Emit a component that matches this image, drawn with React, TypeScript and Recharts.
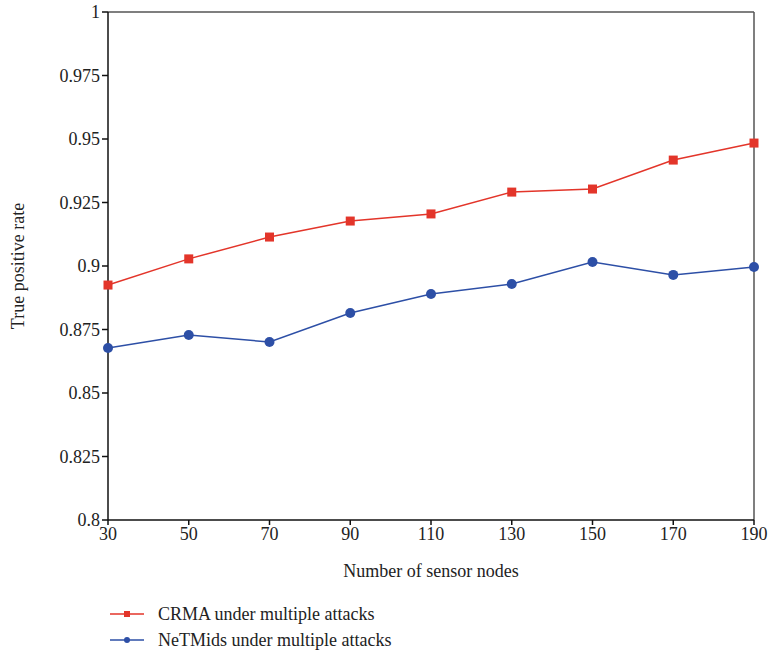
import {
  LineChart,
  Line,
  XAxis,
  YAxis,
  Legend,
  ReferenceLine,
} from "recharts";

const nodes = [30, 50, 70, 90, 110, 130, 150, 170, 190];
const crma = [0.8925, 0.9028, 0.9114, 0.9177, 0.9205, 0.9291, 0.9303, 0.9417, 0.9484];
const netmids = [0.8677, 0.8728, 0.8701, 0.8815, 0.889, 0.8929, 0.9016, 0.8965, 0.8996];
const yTicks = [0.8, 0.825, 0.85, 0.875, 0.9, 0.925, 0.95, 0.975, 1];

const data = nodes.map((n, i) => ({ n, crma: crma[i], netmids: netmids[i] }));

const font = "'Liberation Serif', 'Times New Roman', serif";
const RED = "#e3352a";
const BLUE = "#2d4fa6";
const tickStyle = { fill: "#222", fontFamily: font, fontSize: 18 };

const Square = (props: any) => {
  const { cx, cy } = props;
  return <rect x={cx - 4.5} y={cy - 4.5} width={9} height={9} fill={RED} />;
};

const renderLegend = () => (
  <div style={{ fontFamily: font, fontSize: 18, color: "#222", paddingBottom: 6 }}>
    {[
      { name: "CRMA under multiple attacks", color: RED, square: true },
      { name: "NeTMids under multiple attacks", color: BLUE, square: false },
    ].map((it) => (
      <div key={it.name} style={{ display: "flex", alignItems: "center", height: 26 }}>
        <svg width={36} height={10} style={{ marginRight: 12 }}>
          <line x1={0} y1={5} x2={34} y2={5} stroke={it.color} strokeWidth={1.5} />
          {it.square ? (
            <rect x={14} y={2} width={6} height={6} fill={it.color} />
          ) : (
            <circle cx={17} cy={5} r={3} fill={it.color} />
          )}
        </svg>
        <span>{it.name}</span>
      </div>
    ))}
  </div>
);

export default function App() {
  return (
    <div style={{ position: "absolute", left: 0, top: 0, fontFamily: font, fontSize: 18 }}>
      <LineChart
        width={771}
        height={659}
        data={data}
        margin={{ top: 12, right: 17, left: 0, bottom: 0 }}
        style={{ fontFamily: font, fontSize: 18 }}
      >
        <XAxis
          dataKey="n"
          type="number"
          domain={[30, 190]}
          ticks={nodes}
          stroke="#111"
          strokeWidth={1.5}
          tickSize={5}
          fontSize={18}
          fontFamily={font}
          tick={tickStyle}
          height={81}
          label={{
            value: "Number of sensor nodes",
            position: "insideBottom",
            offset: 24,
            fill: "#222",
            fontFamily: font,
            fontSize: 18,
          }}
        />
        <YAxis
          type="number"
          domain={[0.8, 1]}
          ticks={yTicks}
          stroke="#111"
          strokeWidth={1.5}
          tickSize={6}
          width={108}
          fontSize={18}
          fontFamily={font}
          tick={tickStyle}
          label={{
            value: "True positive rate",
            angle: -90,
            position: "insideLeft",
            offset: 18,
            style: { textAnchor: "middle" },
            fill: "#222",
            fontFamily: font,
            fontSize: 18,
          }}
        />
        <ReferenceLine y={1} stroke="#555" strokeWidth={1.5} />
        <ReferenceLine x={190} stroke="#555" strokeWidth={1.5} />
        <Legend
          verticalAlign="bottom"
          align="left"
          content={renderLegend}
          wrapperStyle={{ left: 110, paddingTop: 0 }}
        />
        <Line
          dataKey="crma"
          name="CRMA under multiple attacks"
          stroke={RED}
          strokeWidth={1.5}
          dot={<Square />}
          isAnimationActive={false}
        />
        <Line
          dataKey="netmids"
          name="NeTMids under multiple attacks"
          stroke={BLUE}
          strokeWidth={1.5}
          dot={{ r: 5, fill: BLUE, stroke: BLUE, strokeWidth: 0 }}
          isAnimationActive={false}
        />
      </LineChart>
    </div>
  );
}
